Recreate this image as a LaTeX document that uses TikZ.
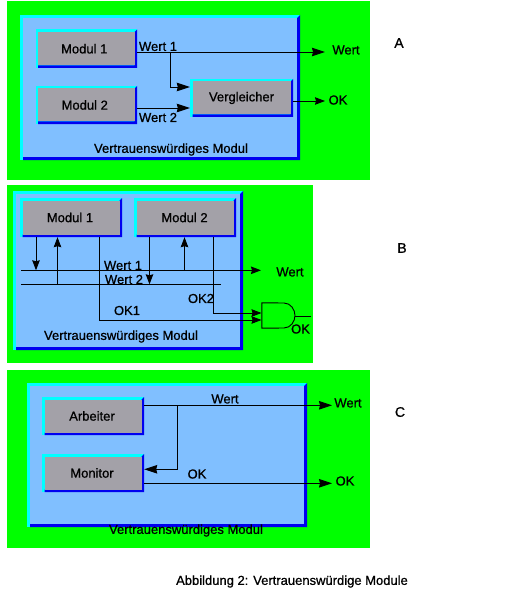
\documentclass[tikz,border=0pt]{standalone}
\usepackage{fontspec}
\setmainfont[FakeBold=0.8]{Liberation Sans}
\usetikzlibrary{arrows.meta}
\definecolor{grn}{HTML}{00FF00}
\definecolor{sky}{HTML}{80BFFF}
\definecolor{gry}{HTML}{A3A1A8}
\definecolor{cy}{HTML}{00FFFF}
\definecolor{blu}{HTML}{0000F0}
\tikzset{
  wl/.style={font=\fontsize{13}{15}\selectfont,inner sep=0pt,text=black},
  sec/.style={font=\fontsize{14}{16}\selectfont,inner sep=0pt},
  wire/.style={draw=black,line width=0.9pt},
  arr/.style={wire,-{Stealth[length=13pt,width=8.5pt,inset=1pt]}},
  arrs/.style={wire,-{Stealth[length=10pt,width=7.5pt,inset=1pt]}},
}
\newcommand{\mybox}[6]{% name, x0,y0,x1,y1,text
  \fill[cy] (#2,#3) rectangle (#4,#5);
  \fill[blu] (#2+2.5,#5) -- (#4,#5) -- (#4,#3) -- (#4-2.5,#3+2.5) -- (#4-2.5,#5-2.5) -- (#2+2.5,#5-2.5) -- cycle;
  \fill[gry] (#2+2.5,#3+2.5) rectangle (#4-2.5,#5-2.5);
  \node[wl,minimum width=#4-#2,minimum height=#5-#3] (#1) at ({(#2+#4)/2},{(#3+#5)/2}) {#6};
}
\newcommand{\myouter}[4]{%
  \fill[cy] (#1,#2) rectangle (#3,#4);
  \fill[blu] (#1+3,#4) -- (#3,#4) -- (#3,#2) -- (#3-3,#2+3) -- (#3-3,#4-3) -- (#1+3,#4-3) -- cycle;
  \fill[sky] (#1+3,#2+3) rectangle (#3-3,#4-3);
}
\begin{document}
\begin{tikzpicture}[x=1pt,y=-1pt]
\useasboundingbox (0,0) rectangle (514,599);
\fill[white] (0,0) rectangle (514,599);
% A
\fill[grn] (7,1) rectangle (370,180);
\myouter{20}{15}{300}{160}
\mybox{a1}{35.5}{29.5}{137}{68}{Modul 1\kern4pt}
\mybox{a2}{35.5}{86}{137}{124}{Modul 2\kern3pt}
\mybox{av}{190}{79}{293}{117}{Vergleicher}
\coordinate (aw) at (325,52);
\coordinate (aok) at (325,101);
\coordinate (ab) at (170,52);
\draw[arr] (a1.east |- 0,52) -- (aw);
\draw[arr] (ab) |- (av.west |- 0,87);
\draw[arr] (a2.east |- 0,108) -- (av.west |- 0,108);
\draw[arrs] (av.east |- 0,101) -- (aok);
\node[wl] at (158,46.5) {Wert 1};
\node[wl] at (158,117.5) {Wert 2};
\node[wl] at (346,50) {Wert};
\node[wl] at (338,100) {OK};
\node[wl] at (171,149.5) {Vertrauenswürdiges Modul};
\node[sec] at (399,43) {A};
% B
\fill[grn] (7,185) rectangle (313,363);
\myouter{13}{191}{243}{350}
\mybox{b1}{20}{198}{122}{237}{Modul 1\kern2pt}
\mybox{b2}{134}{198}{236}{237}{Modul 2\kern1pt}
\coordinate (bw1s) at (21,270.3);
\coordinate (bw1e) at (261,270.3);
\coordinate (bw2s) at (21,284.3);
\coordinate (bw2e) at (221,284.3);
\coordinate (gi1) at (261.5,313);
\coordinate (gi2) at (261.5,320);
\coordinate (go) at (311,316);
\draw[arrs] (bw1s) -- (bw1e);
\draw[wire] (bw2s) -- (bw2e);
\draw[arrs] (b1.south -| 36,0) -- (bw1s -| 36,0);
\draw[arrs] (bw2s -| 57.5,0) -- (b1.south -| 57.5,0);
\draw[arrs] (b2.south -| 149.5,0) -- (bw2s -| 149.5,0);
\draw[arrs] (bw1s -| 184.5,0) -- (b2.south -| 184.5,0);
\draw[arrs] (b1.south -| 99.5,0) |- (gi2);
\draw[arrs] (b2.south -| 213.5,0) |- (gi1);
\node[inner sep=0pt,minimum width=33pt,minimum height=25pt] (gate) at (278.5,315.5) {};
\draw[wire] (gate.north west) -- (284,303) .. controls (291,303) and (295,310) .. (295,315.5) .. controls (295,321) and (291,328) .. (284,328) -- (gate.south west) -- cycle;
\draw[wire] (gate.east |- go) -- (go);
\node[wl] at (123,265.5) {Wert 1};
\node[wl] at (124,279.5) {Wert 2};
\node[wl] at (290,272) {Wert};
\node[wl] at (201,298.5) {OK2};
\node[wl] at (127,310.5) {OK1};
\node[wl] at (300.5,329) {OK};
\node[wl] at (121,336.5) {Vertrauenswürdiges Modul};
\node[sec] at (402,248) {B};
% C
\fill[grn] (7,370) rectangle (370,548);
\myouter{27}{383}{307}{527}
\mybox{c1}{42}{397}{144}{435}{Arbeiter\kern2pt}
\mybox{c2}{42}{454}{144}{492}{Monitor\kern2pt}
\coordinate (cw) at (332,405.3);
\coordinate (cok) at (332,483.3);
\coordinate (cb) at (177.5,405.3);
\draw[arr] (c1.east |- cw) -- (cw);
\draw[arr] (cb) |- (c2.east |- 0,469.3);
\draw[arr] (c2.east |- cok) -- (cok);
\node[wl] at (225,399) {Wert};
\node[wl] at (348,403) {Wert};
\node[wl] at (197,474) {OK};
\node[wl] at (345,481) {OK};
\node[wl] at (186,530.5) {Vertrauenswürdiges Modul};
\node[sec] at (400,412) {C};
\node[wl] at (292,581.5) {Abbildung 2: Vertrauenswürdige Module};
\end{tikzpicture}
\end{document}
